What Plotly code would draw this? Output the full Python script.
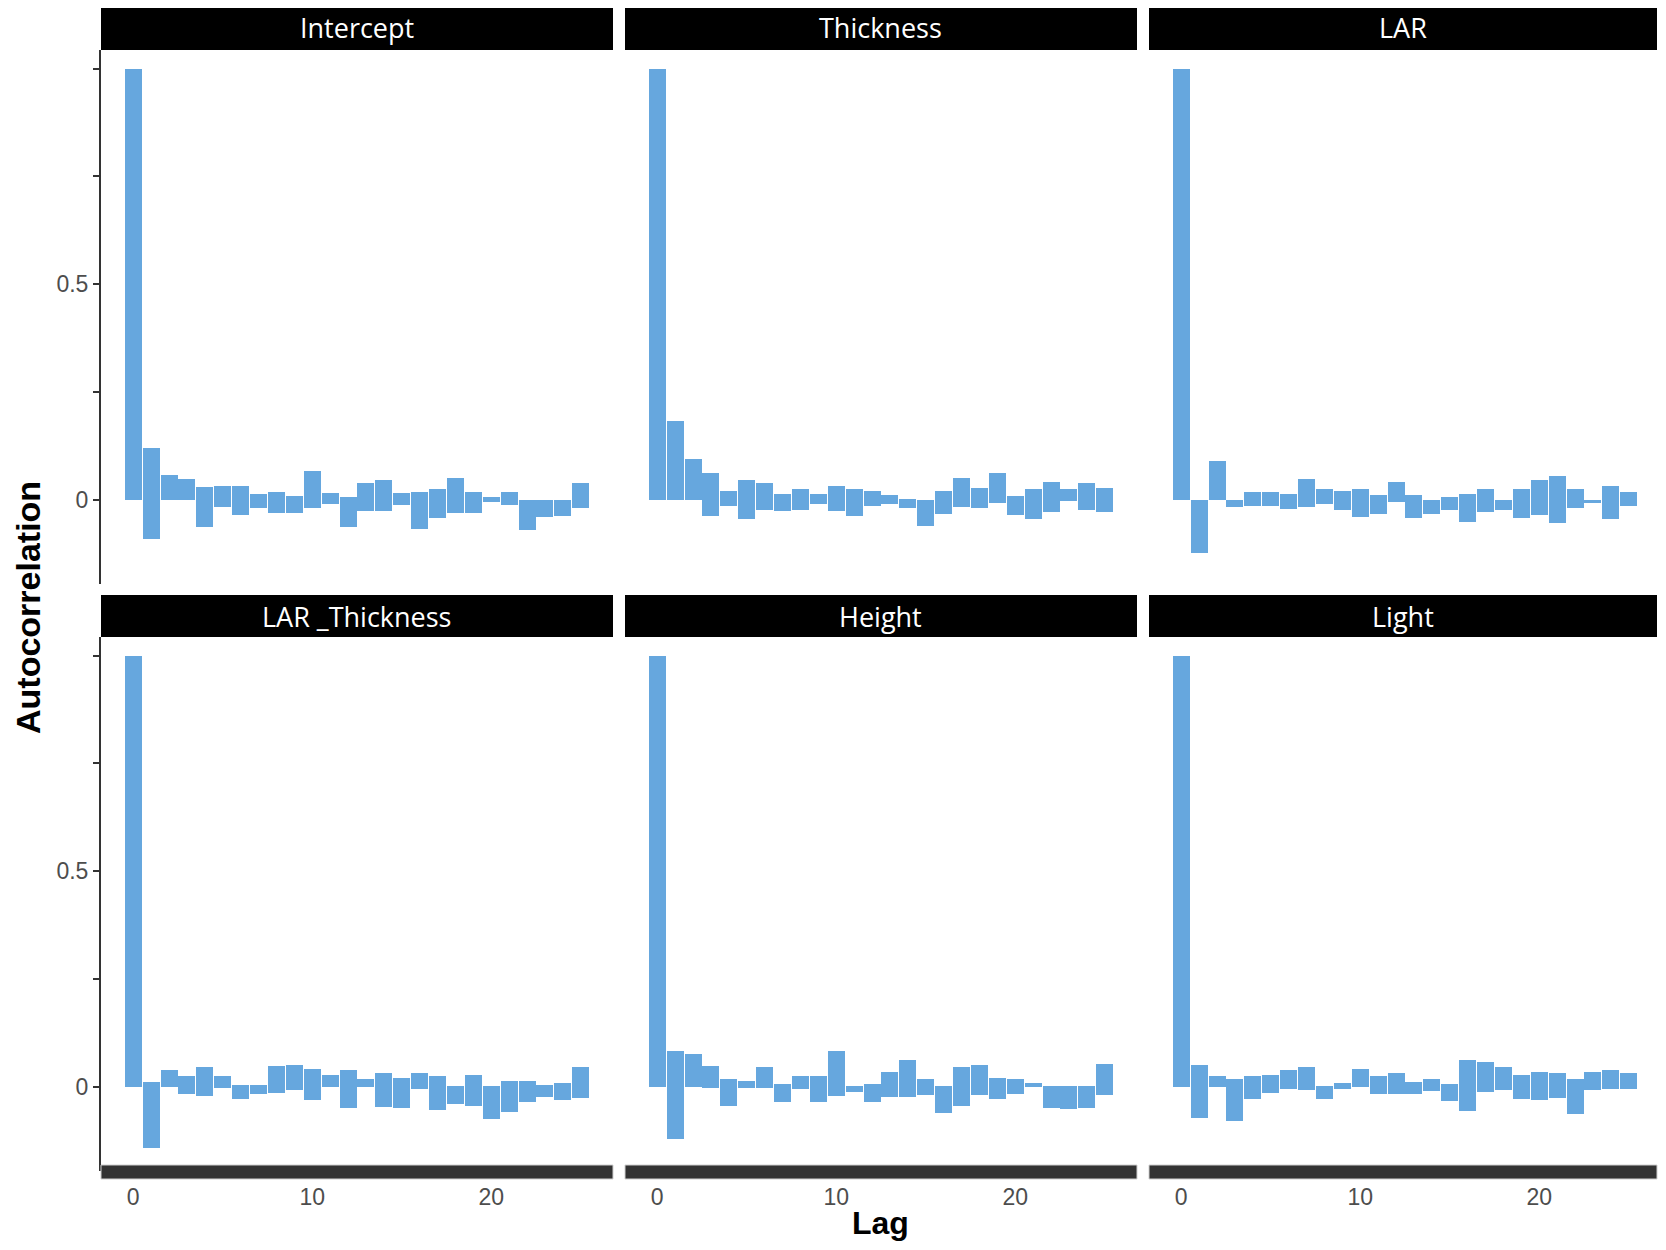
import plotly.graph_objects as go

W, H = 1666, 1250
PAD = 8  # default page margin around the plot
FW, FH = W - 2 * PAD, H - 2 * PAD

lags = list(range(26))

panel_titles = ["Intercept", "Thickness", "LAR", "LAR _Thickness", "Height", "Light"]

intercept_hi = [1.0, 0.121, 0.059, 0.049, 0.031, 0.033, 0.033, 0.015, 0.019, 0.010, 0.068, 0.017, 0.008,
                0.040, 0.047, 0.017, 0.019, 0.026, 0.052, 0.019, 0.008, 0.019, 0.0, 0.0, 0.0, 0.040]
intercept_lo = [0.0, -0.090, 0.0, 0.0, -0.061, -0.015, -0.033, -0.019, -0.029, -0.029, -0.019, -0.008, -0.063,
                -0.024, -0.026, -0.010, -0.066, -0.040, -0.029, -0.029, -0.003, -0.010, -0.070, -0.038, -0.036, -0.017]

thickness_hi = [1.0, 0.184, 0.096, 0.064, 0.022, 0.048, 0.039, 0.015, 0.025, 0.015, 0.034, 0.025, 0.022,
                0.013, 0.004, 0.0, 0.022, 0.052, 0.029, 0.062, 0.011, 0.027, 0.043, 0.025, 0.039, 0.029]
thickness_lo = [0.0, 0.0, 0.0, -0.037, -0.014, -0.044, -0.023, -0.025, -0.023, -0.009, -0.025, -0.037, -0.014,
                -0.009, -0.019, -0.060, -0.032, -0.016, -0.019, -0.007, -0.035, -0.044, -0.028, -0.002, -0.023, -0.028]

lar_hi = [1.0, 0.0, 0.090, 0.0, 0.018, 0.020, 0.015, 0.050, 0.025, 0.022, 0.027, 0.013, 0.043,
          0.013, 0.0, 0.008, 0.015, 0.027, 0.0, 0.025, 0.046, 0.057, 0.027, 0.0, 0.034, 0.020]
lar_lo = [0.0, -0.123, 0.0, -0.016, -0.014, -0.014, -0.021, -0.016, -0.009, -0.023, -0.039, -0.032, -0.005,
          -0.042, -0.032, -0.023, -0.051, -0.028, -0.023, -0.042, -0.035, -0.053, -0.019, -0.007, -0.044, -0.014]

lar_thickness_hi = [1.0, 0.013, 0.039, 0.025, 0.046, 0.027, 0.006, 0.006, 0.050, 0.052, 0.043, 0.029, 0.039,
                    0.020, 0.032, 0.022, 0.032, 0.027, 0.002, 0.029, 0.002, 0.015, 0.015, 0.006, 0.011, 0.048]
lar_thickness_lo = [0.0, -0.141, 0.0, -0.016, -0.021, -0.002, -0.028, -0.016, -0.014, -0.007, -0.030, 0.0, -0.049,
                    0.0, -0.046, -0.049, -0.005, -0.053, -0.039, -0.044, -0.074, -0.058, -0.035, -0.023, -0.030, -0.025]

height_hi = [1.0, 0.083, 0.076, 0.050, 0.020, 0.015, 0.048, 0.008, 0.025, 0.025, 0.083, 0.002, 0.008,
             0.036, 0.062, 0.018, 0.002, 0.046, 0.052, 0.022, 0.020, 0.011, 0.002, 0.002, 0.002, 0.055]
height_lo = [0.0, -0.120, 0.0, -0.002, -0.044, -0.002, -0.002, -0.035, -0.005, -0.035, -0.021, -0.012, -0.035,
             -0.023, -0.023, -0.019, -0.060, -0.044, -0.019, -0.028, -0.016, 0.0, -0.049, -0.051, -0.049, -0.019]

light_hi = [1.0, 0.052, 0.027, 0.018, 0.027, 0.029, 0.039, 0.048, 0.002, 0.011, 0.043, 0.025, 0.034,
            0.013, 0.020, 0.008, 0.064, 0.059, 0.046, 0.029, 0.036, 0.032, 0.020, 0.036, 0.039, 0.032]
light_lo = [0.0, -0.072, 0.0, -0.079, -0.028, -0.014, -0.005, -0.007, -0.028, -0.005, 0.0, -0.016, -0.016,
            -0.016, -0.009, -0.032, -0.056, -0.012, -0.007, -0.028, -0.030, -0.025, -0.063, -0.007, -0.005, -0.005]

panel_hi = [intercept_hi, thickness_hi, lar_hi, lar_thickness_hi, height_hi, light_hi]
panel_lo = [intercept_lo, thickness_lo, lar_lo, lar_thickness_lo, height_lo, light_lo]

x_tickvals = [0, 10, 20]
y_tickvals = [0, 0.25, 0.5, 0.75, 1.0]
y_ticktext = ["0", "", "0.5", "", ""]

BAR = "#66a7de"
DARK = "#333333"
TICKFONT = dict(family="Liberation Sans, Arial, sans-serif", size=23, color="#4d4d4d")

# pixel layout (window pixels)
cols_px = [(101, 613), (625, 1137), (1149, 1657)]
rows_px = [(50, 584), (637, 1171)]
strip_px = [(6, 50), (595, 637)]
band_px = (1165, 1179)
PX_PER_LAG = 512 / 28.6


def px_x(v):
    return min(max((v - PAD) / FW, 0), 1)


def px_y(v):
    return min(max(1 - (v - PAD) / FH, 0), 1)


fig = go.Figure()
layout = dict(
    width=FW, height=FH,
    margin=dict(l=0, r=0, t=0, b=0),
    paper_bgcolor="white", plot_bgcolor="white",
    showlegend=False, bargap=0,
)

shapes = []
annotations = []

for i in range(6):
    r, c = divmod(i, 3)
    idx = "" if i == 0 else str(i + 1)
    hi = panel_hi[i]
    lo = panel_lo[i]
    fig.add_trace(go.Bar(
        x=lags, y=[h - l for h, l in zip(hi, lo)], base=lo,
        width=0.95, marker=dict(color=BAR, line=dict(width=0)),
        xaxis="x" + idx, yaxis="y" + idx,
        hovertemplate="Lag %{x}<extra></extra>",
    ))
    x0, x1 = cols_px[c]
    y0, y1 = rows_px[r]
    layout["xaxis" + idx] = dict(
        domain=[px_x(x0), px_x(x1)], range=[-1.8, -1.8 + (x1 - x0) / PX_PER_LAG],
        anchor="y" + idx,
        showgrid=False, zeroline=False, showline=False,
        tickvals=x_tickvals, ticktext=[str(v) for v in x_tickvals],
        showticklabels=(r == 1), ticks="outside" if r == 1 else "",
        ticklen=5, tickcolor="rgba(0,0,0,0)", tickfont=TICKFONT,
    )
    layout["yaxis" + idx] = dict(
        domain=[px_y(y1), px_y(y0)], range=[-0.194, 1.043], anchor="x" + idx,
        showgrid=False, zeroline=False,
        showline=(c == 0), linecolor=DARK, linewidth=2,
        tickvals=y_tickvals, ticktext=y_ticktext,
        showticklabels=(c == 0), ticks="outside" if c == 0 else "",
        ticklen=6, tickwidth=2, tickcolor=DARK, tickfont=TICKFONT,
    )
    # strip
    s0, s1 = strip_px[r]
    shapes.append(dict(type="rect", xref="paper", yref="paper",
                       x0=px_x(x0), x1=px_x(x1), y0=px_y(s1), y1=px_y(s0),
                       fillcolor="black", line=dict(width=0), layer="above"))
    annotations.append(dict(text=panel_titles[i], xref="paper", yref="paper",
                            x=px_x((x0 + x1) / 2), y=px_y((s0 + s1) / 2),
                            xanchor="center", yanchor="middle", showarrow=False,
                            font=dict(family="Open Sans, sans-serif", size=27, color="white")))

# bottom dark bands
for x0, x1 in cols_px:
    shapes.append(dict(type="rect", xref="paper", yref="paper",
                       x0=px_x(x0), x1=px_x(x1), y0=px_y(band_px[1]), y1=px_y(band_px[0]),
                       fillcolor=DARK, line=dict(width=1, color="#d0d0d0"), layer="above"))

annotations.append(dict(text="<b>Lag</b>", xref="paper", yref="paper",
                        x=px_x(881), y=0, xanchor="center", yanchor="bottom",
                        showarrow=False, borderpad=0,
                        font=dict(family="Liberation Sans, Arial, sans-serif", size=32, color="black")))
annotations.append(dict(text="<b>Autocorrelation</b>", xref="paper", yref="paper",
                        x=px_x(28), y=px_y(608), xanchor="center", yanchor="middle",
                        textangle=-90, showarrow=False,
                        font=dict(family="Liberation Sans, Arial, sans-serif", size=34, color="black")))

layout["shapes"] = shapes
layout["annotations"] = annotations
fig.update_layout(**layout)

fig.write_html("out.html")
